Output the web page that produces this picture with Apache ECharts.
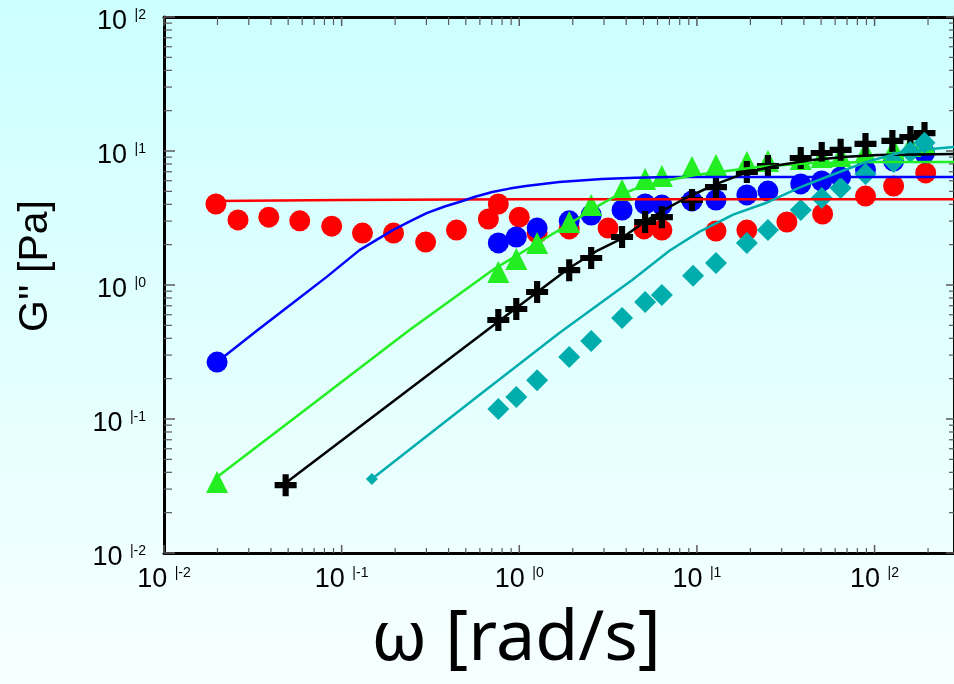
<!DOCTYPE html>
<html>
<head>
<meta charset="utf-8">
<script src="https://cdn.jsdelivr.net/npm/echarts@6/dist/echarts.min.js"></script>
<style>
  html, body { margin: 0; padding: 0; }
  #chart { width: 954px; height: 684px; }
</style>
</head>
<body>
<div id="chart"></div>
<script>
// ---------- data (ω [rad/s], G'' [Pa]) ----------
const redPoints = [
  [0.0196, 4.02], [0.0261, 3.06], [0.0389, 3.21], [0.0581, 3.01], [0.0879, 2.75],
  [0.131, 2.44], [0.196, 2.44], [0.297, 2.09], [0.443, 2.57], [0.670, 3.11],
  [0.762, 4.02], [1.00, 3.21], [1.26, 2.44], [1.91, 2.62], [3.16, 2.66],
  [5.04, 2.62], [6.35, 2.57], [12.8, 2.53], [19.1, 2.57], [32.1, 2.95],
  [51.0, 3.39], [88.9, 4.61], [128, 5.48], [194, 6.86]
];
const redFit = [[0.0196, 4.24], [0.1, 4.30], [1, 4.36], [10, 4.37], [280, 4.37]];

const bluePoints = [
  [0.0199, 0.266], [0.762, 2.06], [0.962, 2.28], [1.26, 2.66], [1.91, 3.01],
  [2.54, 3.33], [3.79, 3.63], [5.11, 4.02], [6.35, 3.95], [9.38, 4.24],
  [12.8, 4.31], [19.1, 4.70], [25.1, 5.02], [38.4, 5.68], [50.4, 5.97],
  [64.4, 6.40], [88.9, 7.21], [128, 8.41], [191, 9.66]
];
const blueFit = [
  [0.0199, 0.266], [0.0337, 0.461], [0.0531, 0.735], [0.0824, 1.15], [0.126, 1.82],
  [0.194, 2.57], [0.250, 3.05], [0.301, 3.44], [0.380, 3.85], [0.460, 4.16],
  [0.570, 4.58], [0.705, 4.94], [0.880, 5.24], [1.09, 5.48], [1.68, 5.88],
  [2.92, 6.18], [4.50, 6.32], [6.97, 6.40], [19.6, 6.40], [280, 6.40]
];

const greenPoints = [
  [0.0199, 0.0339], [0.762, 1.25], [0.962, 1.56], [1.26, 2.06], [1.91, 2.95],
  [2.54, 3.95], [3.79, 5.12], [5.11, 6.18], [6.35, 6.50], [9.38, 7.60],
  [12.8, 7.87], [19.1, 8.28], [25.1, 8.41], [38.4, 8.71], [50.4, 9.02],
  [64.4, 9.18], [88.9, 9.84], [128, 10.35], [159, 10.9], [191, 11.5]
];
const greenFit = [
  [0.0199, 0.0369], [0.0581, 0.109], [0.241, 0.461], [0.705, 1.29], [1.91, 2.85],
  [2.60, 3.70], [3.33, 4.46], [4.80, 5.40], [6.97, 6.08], [9.60, 6.60],
  [13.3, 6.97], [22.0, 7.60], [44.3, 8.13], [100, 8.26], [280, 8.28]
];

const blackPoints = [
  [0.0484, 0.0321], [0.762, 0.548], [0.962, 0.662], [1.26, 0.887], [1.91, 1.29],
  [2.54, 1.59], [3.79, 2.28], [5.11, 2.95], [6.35, 3.21], [9.38, 4.31],
  [12.8, 5.38], [19.1, 6.97], [25.1, 7.73], [38.4, 8.87], [50.4, 9.66],
  [64.4, 10.2], [88.9, 11.3], [126, 11.9], [159, 12.7], [191, 13.6]
];
const blackFit = [
  [0.0484, 0.0333], [0.962, 0.673], [1.91, 1.34], [2.70, 1.78], [3.65, 2.17],
  [5.16, 3.01], [6.80, 3.75], [8.67, 4.46], [12.9, 5.68], [18.8, 6.86],
  [28.0, 7.80], [44.3, 8.57], [70.0, 9.05], [105, 9.33], [280, 9.51]
];

const tealStart = [[0.148, 0.0357]];
const tealPoints = [
  [0.762, 0.119], [0.962, 0.146], [1.26, 0.195], [1.91, 0.290], [2.54, 0.382],
  [3.79, 0.568], [5.11, 0.746], [6.35, 0.841], [9.51, 1.17], [12.8, 1.46],
  [19.1, 2.06], [25.1, 2.57], [38.4, 3.63], [50.4, 4.46], [64.4, 5.30],
  [88.9, 6.73], [128, 8.28], [159, 9.84], [191, 11.5]
];
const tealFit = [
  [0.148, 0.0357], [0.596, 0.151], [1.68, 0.439], [4.32, 1.09], [7.00, 1.80],
  [10.3, 2.49], [16.0, 3.35], [24.4, 4.09], [38.0, 5.35], [57.3, 6.62],
  [90.0, 8.30], [137, 9.66], [200, 10.3], [280, 10.7]
];

// axis ranges & tick values
const X_MIN = 0.01, X_MAX = 280, Y_MIN = 0.01, Y_MAX = 100;
const xDecades = [-2, -1, 0, 1, 2];
const yDecades = [-2, -1, 0, 1];
const mantissas = [2, 3, 4, 5, 6, 7, 8, 9];

// ---------- helpers ----------
const xMajor = xDecades.map(d => Math.pow(10, d));
const yMajor = yDecades.concat([2]).map(d => Math.pow(10, d));
const xMinor = [];
xDecades.forEach(d => mantissas.forEach(m => { const v = m * Math.pow(10, d); if (v < X_MAX) xMinor.push(v); }));
const yMinor = [];
yDecades.forEach(d => mantissas.forEach(m => yMinor.push(m * Math.pow(10, d))));

function tickSeries(data, dx, dy, len, color, width) {
  return {
    type: 'custom', coordinateSystem: 'cartesian2d', silent: true, clip: false, z: 6,
    encode: { x: 0, y: 1 },
    data: data,
    renderItem: function (params, api) {
      const p = api.coord([api.value(0), api.value(1)]);
      return {
        type: 'line',
        shape: { x1: p[0], y1: p[1], x2: p[0] + dx * len, y2: p[1] + dy * len },
        style: { stroke: color, lineWidth: width }
      };
    }
  };
}

const TICK_GRAY = '#5a5a5a';
function labelFmt(value) {
  const l = Math.log10(value);
  const e = Math.round(l);
  if (Math.abs(l - e) > 1e-6) return '';
  return '{b|10 }{s|\u007c' + e + '}';
}
const richLabel = {
  b: { fontFamily: 'Liberation Sans', fontSize: 27, color: '#000', lineHeight: 30 },
  s: { fontFamily: 'Liberation Sans', fontSize: 14, color: '#000', verticalAlign: 'top', lineHeight: 30, padding: [1, 0, 0, 0] }
};

const RED = '#ff0000', BLUE = '#0000ff', GREEN = '#22ee22', BLACK = '#000000', TEAL = '#00adad';
const PLUS = 'path://M3.6,0H6.4V3.6H10V6.4H6.4V10H3.6V6.4H0V3.6H3.6Z';

function scatter(data, symbol, size, color) {
  return { type: 'scatter', data: data, symbol: symbol, symbolSize: size,
           itemStyle: { color: color, opacity: 1 }, z: 3, silent: true };
}
function fitLine(data, color) {
  return { type: 'line', data: data, showSymbol: false, symbol: 'none', smooth: false,
           lineStyle: { color: color, width: 2.5, join: 'round' }, z: 4, silent: true };
}

const chart = echarts.init(document.getElementById('chart'), null, { renderer: 'canvas' });
chart.setOption({
  animation: false,
  backgroundColor: {
    type: 'linear', x: 0, y: 0, x2: 0, y2: 1,
    colorStops: [{ offset: 0, color: '#ccffff' }, { offset: 1, color: '#f7ffff' }]
  },
  grid: { left: 164, top: 17, width: 792, height: 536, containLabel: false },
  xAxis: [
    { type: 'log', min: X_MIN, max: X_MAX, position: 'bottom',
      axisLine: { show: true, lineStyle: { color: '#000', width: 3 } },
      axisTick: { show: false }, splitLine: { show: false }, minorTick: { show: false },
      axisLabel: { formatter: labelFmt, rich: richLabel, margin: 12, showMaxLabel: false, showMinLabel: true } },
    { type: 'log', min: X_MIN, max: X_MAX, position: 'top',
      axisLine: { show: true, lineStyle: { color: '#000', width: 3 } },
      axisTick: { show: false }, splitLine: { show: false }, axisLabel: { show: false } }
  ],
  yAxis: [
    { type: 'log', min: Y_MIN, max: Y_MAX, position: 'left',
      axisLine: { show: true, lineStyle: { color: '#000', width: 3 } },
      axisTick: { show: false }, splitLine: { show: false }, minorTick: { show: false },
      axisLabel: { formatter: labelFmt, rich: richLabel, margin: 18, padding: [10, 0, 0, 0],
                   showMinLabel: true, showMaxLabel: true } },
    { type: 'log', min: Y_MIN, max: Y_MAX, position: 'right',
      axisLine: { show: true, lineStyle: { color: '#000', width: 3 } },
      axisTick: { show: false }, splitLine: { show: false }, axisLabel: { show: false } }
  ],
  graphic: [
    { type: 'text', x: 36, y: 266, rotation: Math.PI / 2,
      style: { text: "G'' [Pa]", font: '41px "Liberation Sans"', fill: '#000', align: 'center', verticalAlign: 'middle' } },
    { type: 'text', x: 516, y: 640,
      style: { text: 'ω [rad/s]', font: '70px "Noto Sans"', fill: '#000', align: 'center', verticalAlign: 'middle' } }
  ],
  series: [
    scatter(redPoints, 'circle', 21, RED),
    scatter(bluePoints, 'circle', 21, BLUE),
    scatter(greenPoints, 'triangle', 22, GREEN),
    scatter(blackPoints, PLUS, 22, BLACK),
    scatter(tealPoints, 'diamond', 22, TEAL),
    scatter(tealStart, 'diamond', 12, TEAL),
    fitLine(redFit, RED),
    fitLine(blueFit, BLUE),
    fitLine(greenFit, GREEN),
    fitLine(blackFit, BLACK),
    fitLine(tealFit, TEAL),
    // ticks (inside)
    tickSeries(xMajor.map(v => [v, Y_MIN]), 0, -1, 8, TICK_GRAY, 1.5),
    tickSeries(xMinor.map(v => [v, Y_MIN]), 0, -1, 5, TICK_GRAY, 1.2),
    tickSeries(xMajor.map(v => [v, Y_MAX]), 0, 1, 9, TICK_GRAY, 1.5),
    tickSeries(xMinor.map(v => [v, Y_MAX]), 0, 1, 8, TICK_GRAY, 1.2),
    tickSeries(yMajor.map(v => [X_MIN, v]), 1, 0, 11, TICK_GRAY, 1.5),
    tickSeries(yMinor.map(v => [X_MIN, v]), 1, 0, 8, TICK_GRAY, 1.2),
    tickSeries(yMajor.map(v => [X_MAX, v]), -1, 0, 8, TICK_GRAY, 1.5),
    tickSeries(yMinor.map(v => [X_MAX, v]), -1, 0, 5, TICK_GRAY, 1.2)
  ]
});
</script>
</body>
</html>
